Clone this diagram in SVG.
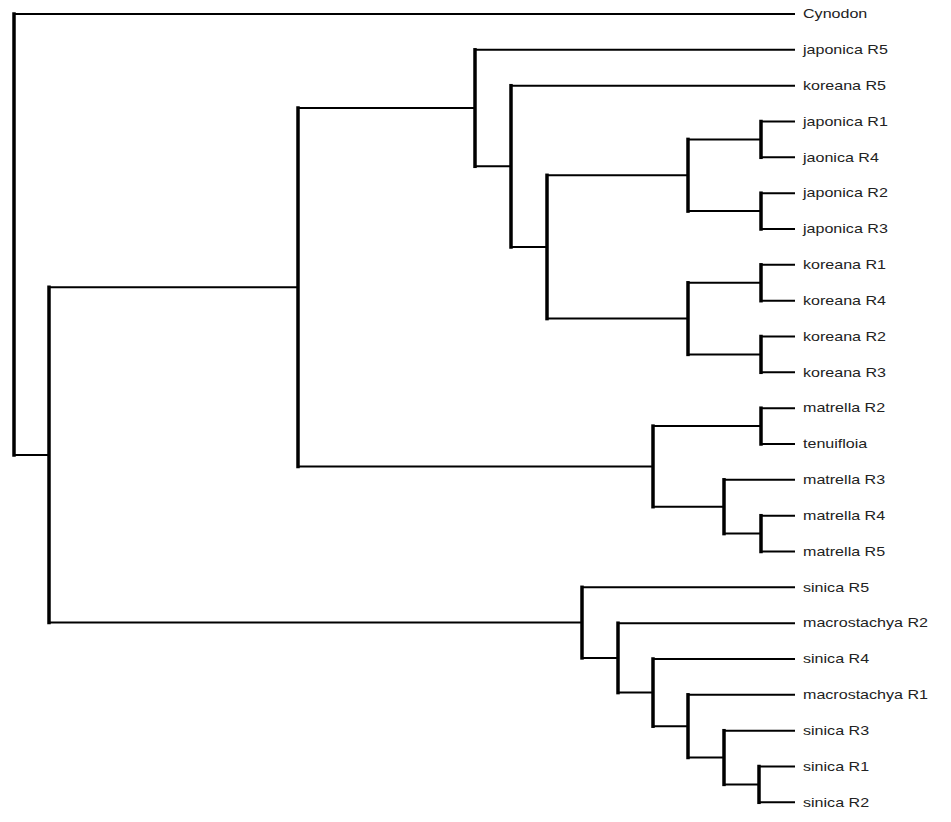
<svg xmlns="http://www.w3.org/2000/svg" width="951" height="822" viewBox="0 0 951 822">
<style>
.h{stroke:#000;stroke-width:2;fill:none}
.v{stroke:#000;stroke-width:3.5;fill:none;stroke-linecap:square}
text{font-family:"Liberation Sans",Arial,sans-serif;font-size:12px;fill:#222}
</style>
<rect width="951" height="822" fill="#fff"/>
<g id="connectors">
<g class="h">
<path d="M14 14H795"/>
<path d="M14 454.9H49"/>
<path d="M49 287.2H298"/>
<path d="M49 622.6H582"/>
<path d="M298 108H475"/>
<path d="M298 466.4H653"/>
<path d="M475 49.8H795"/>
<path d="M475 166.3H511"/>
<path d="M511 85.7H795"/>
<path d="M511 247H547"/>
<path d="M547 175.3H688"/>
<path d="M547 318.6H688"/>
<path d="M688 139.4H761"/>
<path d="M688 211.1H761"/>
<path d="M761 121.5H795"/>
<path d="M761 157.3H795"/>
<path d="M761 193.2H795"/>
<path d="M761 229H795"/>
<path d="M688 282.8H761"/>
<path d="M688 354.4H761"/>
<path d="M761 264.8H795"/>
<path d="M761 300.7H795"/>
<path d="M761 336.5H795"/>
<path d="M761 372.3H795"/>
<path d="M653 426.1H761"/>
<path d="M653 506.7H724"/>
<path d="M761 408.2H795"/>
<path d="M761 444H795"/>
<path d="M724 479.8H795"/>
<path d="M724 533.6H761"/>
<path d="M761 515.7H795"/>
<path d="M761 551.5H795"/>
<path d="M582 587.3H795"/>
<path d="M582 657.9H618"/>
<path d="M618 623.2H795"/>
<path d="M618 692.6H653"/>
<path d="M653 659H795"/>
<path d="M653 726.2H688"/>
<path d="M688 694.8H795"/>
<path d="M688 757.5H724"/>
<path d="M724 730.7H795"/>
<path d="M724 784.4H759"/>
<path d="M759 766.5H795"/>
<path d="M759 802.3H795"/>
</g>
<g class="v">
<path d="M14 14V454.9"/>
<path d="M49 287.2V622.6"/>
<path d="M298 108V466.4"/>
<path d="M475 49.8V166.3"/>
<path d="M511 85.7V247"/>
<path d="M547 175.3V318.6"/>
<path d="M688 139.4V211.1"/>
<path d="M761 121.5V157.3"/>
<path d="M761 193.2V229"/>
<path d="M688 282.8V354.4"/>
<path d="M761 264.8V300.7"/>
<path d="M761 336.5V372.3"/>
<path d="M653 426.1V506.7"/>
<path d="M761 408.2V444"/>
<path d="M724 479.8V533.6"/>
<path d="M761 515.7V551.5"/>
<path d="M582 587.3V657.9"/>
<path d="M618 623.2V692.6"/>
<path d="M653 659V726.2"/>
<path d="M688 694.8V757.5"/>
<path d="M724 730.7V784.4"/>
<path d="M759 766.5V802.3"/>
</g>
</g>
<g id="leaf-cynodon" transform="translate(803,18.2) scale(1.34,1)"><text>Cynodon</text></g>
<g id="leaf-japonica-r5" transform="translate(803,54) scale(1.34,1)"><text>japonica R5</text></g>
<g id="leaf-koreana-r5" transform="translate(803,89.9) scale(1.34,1)"><text>koreana R5</text></g>
<g id="leaf-japonica-r1" transform="translate(803,125.7) scale(1.34,1)"><text>japonica R1</text></g>
<g id="leaf-jaonica-r4" transform="translate(803,161.5) scale(1.34,1)"><text>jaonica R4</text></g>
<g id="leaf-japonica-r2" transform="translate(803,197.4) scale(1.34,1)"><text>japonica R2</text></g>
<g id="leaf-japonica-r3" transform="translate(803,233.2) scale(1.34,1)"><text>japonica R3</text></g>
<g id="leaf-koreana-r1" transform="translate(803,269) scale(1.34,1)"><text>koreana R1</text></g>
<g id="leaf-koreana-r4" transform="translate(803,304.9) scale(1.34,1)"><text>koreana R4</text></g>
<g id="leaf-koreana-r2" transform="translate(803,340.7) scale(1.34,1)"><text>koreana R2</text></g>
<g id="leaf-koreana-r3" transform="translate(803,376.5) scale(1.34,1)"><text>koreana R3</text></g>
<g id="leaf-matrella-r2" transform="translate(803,412.4) scale(1.34,1)"><text>matrella R2</text></g>
<g id="leaf-tenuifloia" transform="translate(803,448.2) scale(1.34,1)"><text>tenuifloia</text></g>
<g id="leaf-matrella-r3" transform="translate(803,484) scale(1.34,1)"><text>matrella R3</text></g>
<g id="leaf-matrella-r4" transform="translate(803,519.9) scale(1.34,1)"><text>matrella R4</text></g>
<g id="leaf-matrella-r5" transform="translate(803,555.7) scale(1.34,1)"><text>matrella R5</text></g>
<g id="leaf-sinica-r5" transform="translate(803,591.5) scale(1.34,1)"><text>sinica R5</text></g>
<g id="leaf-macrostachya-r2" transform="translate(803,627.4) scale(1.34,1)"><text>macrostachya R2</text></g>
<g id="leaf-sinica-r4" transform="translate(803,663.2) scale(1.34,1)"><text>sinica R4</text></g>
<g id="leaf-macrostachya-r1" transform="translate(803,699) scale(1.34,1)"><text>macrostachya R1</text></g>
<g id="leaf-sinica-r3" transform="translate(803,734.9) scale(1.34,1)"><text>sinica R3</text></g>
<g id="leaf-sinica-r1" transform="translate(803,770.7) scale(1.34,1)"><text>sinica R1</text></g>
<g id="leaf-sinica-r2" transform="translate(803,806.5) scale(1.34,1)"><text>sinica R2</text></g>
</svg>
